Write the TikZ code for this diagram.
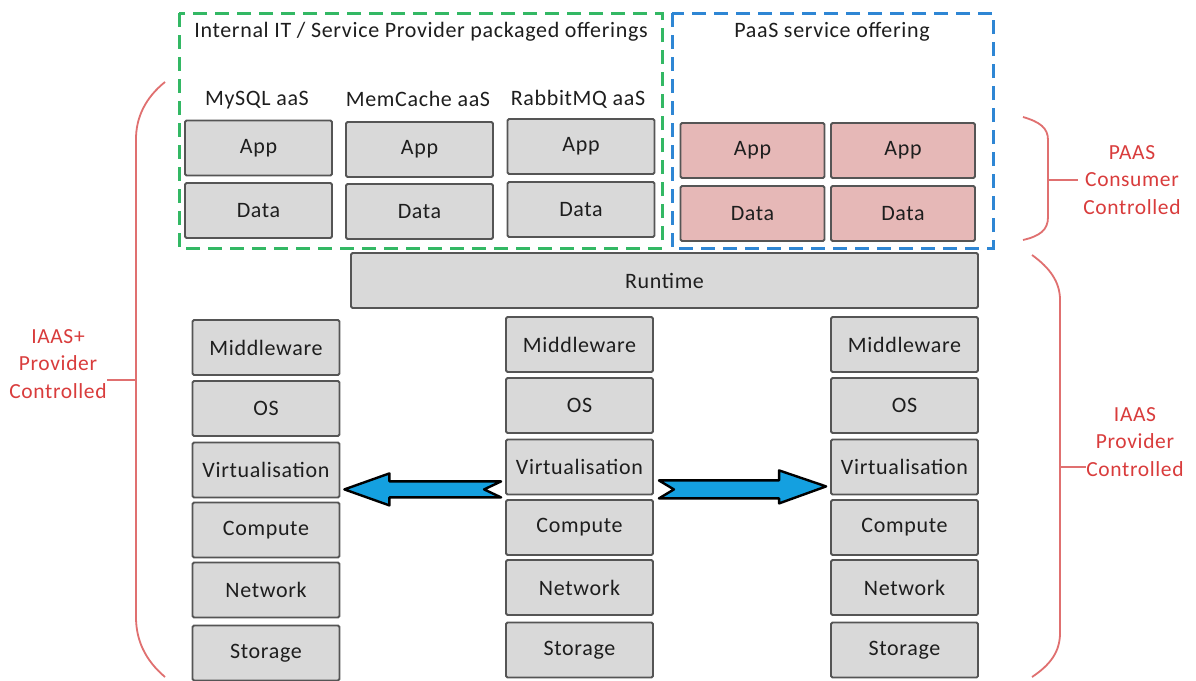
\documentclass[tikz,border=0pt]{standalone}
\usepackage{fontspec}
\setmainfont{Carlito}[LetterSpace=3]
\usetikzlibrary{calc}
\definecolor{boxgray}{HTML}{D9D9D9}
\definecolor{boxline}{HTML}{555555}
\definecolor{txt}{HTML}{1E1E1E}
\definecolor{pinkfill}{HTML}{E6B8B7}
\definecolor{gdash}{HTML}{33B864}
\definecolor{bdash}{HTML}{2E86D4}
\definecolor{bracered}{HTML}{E07070}
\definecolor{labelred}{HTML}{D93C3C}
\definecolor{arrowblue}{HTML}{14A0E0}
\begin{document}
\begin{tikzpicture}[x=1pt,y=-1pt,
  font=\fontsize{22}{26}\selectfont,
  layer/.style={draw=boxline, fill=boxgray, line width=1.8pt, rounded corners=1.5pt,
    minimum width=147pt, minimum height=55pt, inner sep=0pt, text=txt},
  pinklayer/.style={layer, fill=pinkfill, minimum width=144pt},
  plain/.style={inner sep=0pt, text=txt},
  redlabel/.style={inner sep=0pt, text=labelred, align=center, font=\fontsize{21.5}{27.5}\selectfont},
  gbox/.style={draw=gdash, line width=3pt, dash pattern=on 14pt off 8pt},
  bbox/.style={draw=bdash, line width=3pt, dash pattern=on 14pt off 8pt},
  bracket/.style={draw=bracered, line width=1.8pt},
  barrow/.style={fill=arrowblue, draw=black, line width=2.4pt, line join=round}]
\fill[white] (0,0) rectangle (1196,680);
\useasboundingbox (0,0) rectangle (1196,680);

% dashed groups
\draw[gbox] (179,13) rectangle (662,248);
\draw[bbox] (672,13) rectangle (993,248);
\node[plain] (tInt) at (421,32) {Internal IT / Service Provider packaged offerings};
\node[plain] (tPaaS) at (832,32) {PaaS service offering};

% packaged offerings
\node[plain] (lMy) at (257,100) {MySQL aaS};
\node[plain] (lMem) at (418,99) {MemCache aaS};
\node[plain] (lRab) at (578,99) {RabbitMQ aaS};
\node[layer] (myApp) at (258.5,148) {App};
\node[layer] (myData) at (258.5,210.5) {Data};
\node[layer] (memApp) at (419.5,149.5) {App};
\node[layer] (memData) at (419.5,211.5) {Data};
\node[layer] (rabApp) at (581,146.5) {App};
\node[layer] (rabData) at (581,209.5) {Data};

% PaaS apps
\node[pinklayer] (pApp1) at (752.5,150.5) {App};
\node[pinklayer] (pData1) at (752.5,213.5) {Data};
\node[pinklayer] (pApp2) at (903,150.5) {App};
\node[pinklayer] (pData2) at (903,213.5) {Data};

% runtime
\node[layer, minimum width=627pt] (runtime) at (664.5,280.5) {Runtime};

% left column
\node[layer] (lM) at (266,347.5) {Middleware};
\node[layer] (lO) at (266,408.5) {OS};
\node[layer] (lV) at (266,470) {Virtualisation};
\node[layer] (lC) at (266,530) {Compute};
\node[layer] (lN) at (266,590) {Network};
\node[layer] (lS) at (266,653) {Storage};
% middle column
\node[layer] (mM) at (579.5,344.5) {Middleware};
\node[layer] (mO) at (579.5,405.5) {OS};
\node[layer] (mV) at (579.5,467) {Virtualisation};
\node[layer] (mC) at (579.5,527.5) {Compute};
\node[layer] (mN) at (579.5,587.5) {Network};
\node[layer] (mS) at (579.5,650) {Storage};
% right column
\node[layer] (rM) at (904.5,344.5) {Middleware};
\node[layer] (rO) at (904.5,405.5) {OS};
\node[layer] (rV) at (904.5,467) {Virtualisation};
\node[layer] (rC) at (904.5,527.5) {Compute};
\node[layer] (rN) at (904.5,587.5) {Network};
\node[layer] (rS) at (904.5,650) {Storage};

% arrows
\coordinate (ltail) at ($(mV.south west)+(-4,-6)$);
\coordinate (ltip) at ($(lV.south east)+(4,-9)$);
\draw[barrow] (ltip) -- ++(45,-16) |- ($(ltail)+(0,-8)$) -- ++(-17,8) -- ++(17,8)
  -| ($(ltip)+(45,16)$) -- cycle;
\coordinate (rtail) at ($(mV.south east)+(5,-6)$);
\coordinate (rtip) at ($(rV.south west)+(-4,-9)$);
\draw[barrow] (rtip) -- ++(-47,-16) |- ($(rtail)+(0,-9)$) -- ++(15,9) -- ++(-15,9)
  -| ($(rtip)+(-47,17)$) -- cycle;

% brackets and labels
\node[redlabel] (labL) at (58,364) {IAAS+\\Provider\\Controlled};
\coordinate (tickL) at (136,380);
\draw[bracket] (165,82) .. controls (145,98) and (136,118) .. (136,139) -- (136,617)
  .. controls (136,640) and (145,660) .. (165,677);
\draw[bracket] (tickL) -- (tickL -| labL.east);

\node[redlabel] (labP) at (1132,180) {PAAS\\Consumer\\Controlled};
\coordinate (tickP) at (1048,180);
\draw[bracket] (1023,117) .. controls (1040,122) and (1048,128) .. (1048,140) -- (1048,217)
  .. controls (1048,230) and (1040,236) .. (1023,240);
\draw[bracket] (tickP) -- ($(tickP -| labP.west)+(-5,0)$);

\node[redlabel] (labI) at (1135,442) {IAAS\\Provider\\Controlled};
\coordinate (tickI) at (1060,467);
\draw[bracket] (1032,255) .. controls (1050,268) and (1060,282) .. (1060,300) -- (1060,633)
  .. controls (1060,652) and (1050,665) .. (1032,677);
\draw[bracket] (tickI) -- (tickI -| labI.west);
\end{tikzpicture}
\end{document}
